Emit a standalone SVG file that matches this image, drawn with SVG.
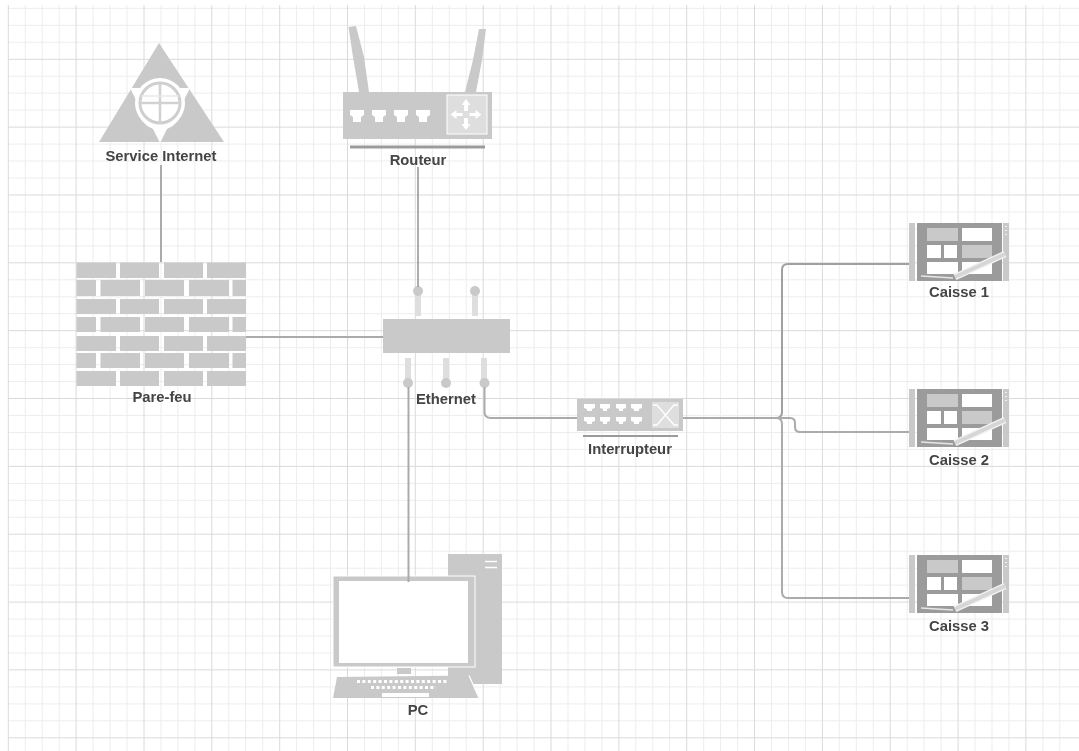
<svg xmlns="http://www.w3.org/2000/svg" width="1079" height="751" viewBox="0 0 1079 751">
<style>
.g{fill:#c9c9c9}.w{fill:#fff}.l{fill:#dedede}.d{fill:#9b9b9b}
.t{font-family:"Liberation Sans",Arial,sans-serif;font-size:14.8px;font-weight:bold;fill:#444;text-anchor:middle}
.c{fill:none;stroke:#ababab;stroke-width:2}
.minor{fill:none;stroke:#ededed;stroke-width:1}
.major{fill:none;stroke:#dadada;stroke-width:1}
</style>
<defs>
<filter id="soft" x="-2%" y="-2%" width="104%" height="104%"><feGaussianBlur stdDeviation="0.45"/></filter>
<g id="caisse">
<rect class="g" x="909" y="223" width="6" height="58"/>
<rect class="d" x="917" y="223" width="85" height="58"/>
<rect class="g" x="1003" y="223" width="6" height="58"/>
<path d="M1006 226v1M1006 230v1M1006 234v1" stroke="#fff" stroke-width="1.500"/>
<rect class="g" x="927" y="228" width="31" height="13"/>
<rect class="w" x="962" y="228" width="30" height="13"/>
<rect class="w" x="927" y="245" width="14" height="13"/>
<rect class="w" x="944" y="245" width="13" height="13"/>
<rect class="g" x="962" y="245" width="30" height="13"/>
<rect class="w" x="927" y="262" width="31" height="12"/>
<rect class="w" x="962" y="262" width="30" height="12"/>
<path d="M955 277L1005 254" stroke="#f2f2f2" stroke-width="6.500"/>
<path d="M955 277L1005 254" stroke="#d6d6d6" stroke-width="4"/>
<path d="M921 276L953 278" stroke="#e6e6e6" stroke-width="1.500"/>
</g>
</defs>
<rect width="1079" height="751" fill="#fff"/>
<g filter="url(#soft)">
<g id="background-grid">
<path class="minor" d="M25.300 5V751M42.200 5V751M59.200 5V751M93.100 5V751M110.100 5V751M127 5V751M161 5V751M177.900 5V751M194.900 5V751M228.800 5V751M245.700 5V751M262.700 5V751M296.600 5V751M313.600 5V751M330.500 5V751M364.500 5V751M381.400 5V751M398.400 5V751M432.300 5V751M449.300 5V751M466.200 5V751M500.100 5V751M517.100 5V751M534.100 5V751M568 5V751M584.900 5V751M601.900 5V751M635.800 5V751M652.800 5V751M669.700 5V751M703.700 5V751M720.600 5V751M737.600 5V751M771.500 5V751M788.500 5V751M805.400 5V751M839.300 5V751M856.300 5V751M873.300 5V751M907.200 5V751M924.100 5V751M941.100 5V751M975 5V751M992 5V751M1008.900 5V751M1042.900 5V751M1059.800 5V751"/>
<path class="minor" d="M8 8.300H1079M8 25.300H1079M8 42.200H1079M8 76.200H1079M8 93.100H1079M8 110.100H1079M8 144.100H1079M8 161H1079M8 178H1079M8 212H1079M8 228.900H1079M8 245.900H1079M8 279.800H1079M8 296.800H1079M8 313.700H1079M8 347.700H1079M8 364.600H1079M8 381.600H1079M8 415.500H1079M8 432.500H1079M8 449.400H1079M8 483.400H1079M8 500.300H1079M8 517.300H1079M8 551.200H1079M8 568.200H1079M8 585.100H1079M8 619.100H1079M8 636H1079M8 653H1079M8 686.900H1079M8 703.900H1079M8 720.800H1079"/>
<path class="major" d="M8.300 5V751M76.100 5V751M144 5V751M211.800 5V751M279.700 5V751M347.500 5V751M415.300 5V751M483.200 5V751M551 5V751M618.900 5V751M686.700 5V751M754.500 5V751M822.400 5V751M890.200 5V751M958.100 5V751M1025.900 5V751"/>
<path class="major" d="M8 59.300H1079M8 127.100H1079M8 195H1079M8 262.800H1079M8 330.700H1079M8 398.500H1079M8 466.400H1079M8 534.200H1079M8 602.100H1079M8 669.900H1079M8 737.800H1079"/>
</g>

<g id="service-internet">
<path class="g" d="M159 43L224 142H99Z"/>
<path class="w" d="M130 88H190L184 100V108Q180 124 167 129L160 143L153 129Q140 124 136 108V100Z"/>
<circle cx="160" cy="103" r="25" class="w"/>
<circle cx="160" cy="103" r="20" fill="none" stroke="#cfcfcf" stroke-width="3"/>
<path d="M160 83V123M140 103H180" stroke="#d2d2d2" stroke-width="2.500"/>
<path d="M141 96H179" stroke="#e8e8e8" stroke-width="1.500"/>
<text class="t" x="161" y="161">Service Internet</text>
</g>

<g id="routeur">
<path class="g" d="M348.500 27L356 26L364 57L369 92H359L353 57Z"/>
<path class="g" d="M479 29L486 29L482 60L476 92H465L473 60Z"/>
<rect class="g" x="343" y="92" width="149" height="47"/>
<path class="w" d="M350 110H364V115L361 117V122H353V117L350 115ZM372 110H386V115L383 117V122H375V117L372 115ZM394 110H408V115L405 117V122H397V117L394 115ZM416 110H430V115L427 117V122H419V117L416 115Z"/>
<rect class="l" x="447" y="95" width="40" height="39" stroke="#fff" stroke-width="1"/>
<path class="w" d="M466 99L470.500 105H468V111H464V105H461.500ZM466 130L470.500 124H468V118H464V124H461.500ZM450.500 114.500L456.500 110V113H462.500V116H456.500V119ZM481.500 114.500L475.500 110V113H469.500V116H475.500V119Z"/>
<rect class="d" x="350" y="145.500" width="135" height="3"/>
<text class="t" x="418" y="165">Routeur</text>
</g>

<g id="pare-feu">
<g class="g">
<path d="M76.500 262.500H116V278H76.500ZM120 262.500H159V278H120ZM164 262.500H203V278H164ZM207 262.500H246V278H207Z"/>
<path d="M76.500 280H96V296H76.500ZM100.500 280H140V296H100.500ZM145 280H184V296H145ZM189 280H229V296H189ZM232.500 280H246V296H232.500Z"/>
<path d="M76.500 299H116V314H76.500ZM120 299H159V314H120ZM164 299H203V314H164ZM207 299H246V314H207Z"/>
<path d="M76.500 317H96V332H76.500ZM100.500 317H140V332H100.500ZM145 317H184V332H145ZM189 317H229V332H189ZM232.500 317H246V332H232.500Z"/>
<path d="M76.500 336H116V351H76.500ZM120 336H159V351H120ZM164 336H203V351H164ZM207 336H246V351H207Z"/>
<path d="M76.500 353H96V368H76.500ZM100.500 353H140V368H100.500ZM145 353H184V368H145ZM189 353H229V368H189ZM232.500 353H246V368H232.500Z"/>
<path d="M76.500 371H116V386H76.500ZM120 371H159V386H120ZM164 371H203V386H164ZM207 371H246V386H207Z"/>
</g>
<text class="t" x="162" y="402">Pare-feu</text>
</g>

<g id="ethernet">
<rect class="g" x="383" y="319" width="127" height="34"/>
<path class="l" d="M415 295h6v21h-6ZM472 295h6v21h-6ZM405 358h6v24h-6ZM443 358h6v24h-6ZM481 358h6v24h-6Z"/>
<g class="g">
<circle cx="418" cy="291" r="5"/><circle cx="475" cy="291" r="5"/>
<circle cx="408" cy="383" r="5"/><circle cx="446" cy="383" r="5"/><circle cx="484.500" cy="383" r="5"/>
</g>
<text class="t" x="446" y="404">Ethernet</text>
</g>

<g id="interrupteur">
<rect class="g" x="577" y="399" width="106" height="32"/>
<path class="w" d="M584 404H595V408L592 409V411H587V409L584 408ZM600 404H610V408L607 409V411H603V409L600 408ZM616 404H626V408L623 409V411H619V409L616 408ZM631 404H642V408L639 409V411H634V409L631 408ZM584 417H595V421L592 422V424H587V422L584 421ZM600 417H610V421L607 422V424H603V422L600 421ZM616 417H626V421L623 422V424H619V422L616 421ZM631 417H642V421L639 422V424H634V422L631 421Z"/>
<rect class="l" x="652" y="402" width="27" height="26"/>
<path d="M653 405H657L674 425H678M653 425H657L674 405H678" fill="none" stroke="#fff" stroke-width="1.300"/>
<rect class="d" x="583" y="435" width="95" height="2"/>
<text class="t" x="630" y="454">Interrupteur</text>
</g>

<g id="caisse-1"><use href="#caisse"/><text class="t" x="959" y="297">Caisse 1</text></g>
<g id="caisse-2"><use href="#caisse" y="166"/><text class="t" x="959" y="465">Caisse 2</text></g>
<g id="caisse-3"><use href="#caisse" y="332"/><text class="t" x="959" y="631">Caisse 3</text></g>

<g id="pc">
<rect class="g" x="448" y="554" width="54" height="130"/>
<path d="M485 561.500H497M485 567.500H497" stroke="#fff" stroke-width="1.500"/>
<rect class="g" x="333" y="576" width="142" height="91" stroke="#fff" stroke-width="1"/>
<rect class="w" x="339" y="581" width="129" height="82"/>
<rect class="g" x="397" y="668" width="14" height="6"/>
<path class="g" d="M337 677L469 675.500L479 698H333Z"/>
<path d="M469 675.500L479 698" stroke="#fff" stroke-width="1.200"/>
<path d="M357 681.500H448" stroke="#fff" stroke-width="3" stroke-dasharray="3 2.400"/>
<path d="M371 687.500H436" stroke="#fff" stroke-width="3" stroke-dasharray="3 2.400"/>
<rect class="w" x="382" y="693" width="47" height="4"/>
<text class="t" x="418" y="715">PC</text>
</g>

<g id="connectors">
<path class="c" d="M161 165V262"/>
<path class="c" style="stroke:#999;stroke-width:1.600" d="M418 167V287"/>
<path class="c" d="M246 337H383"/>
<path class="c" d="M408.500 387V582"/>
<path class="c" d="M484.500 387V412Q484.500 418 491 418H577"/>
<path class="c" style="stroke:#a0a0a0" d="M683 418H776Q782 418 782 412V270Q782 264 788 264H909"/>
<path class="c" d="M683 418H776Q782 418 782 424V592Q782 598 788 598H909"/>
<path class="c" d="M683 418H790Q795 418 795 423V427Q795 432 800 432H909"/>
</g>
</g>
</svg>
